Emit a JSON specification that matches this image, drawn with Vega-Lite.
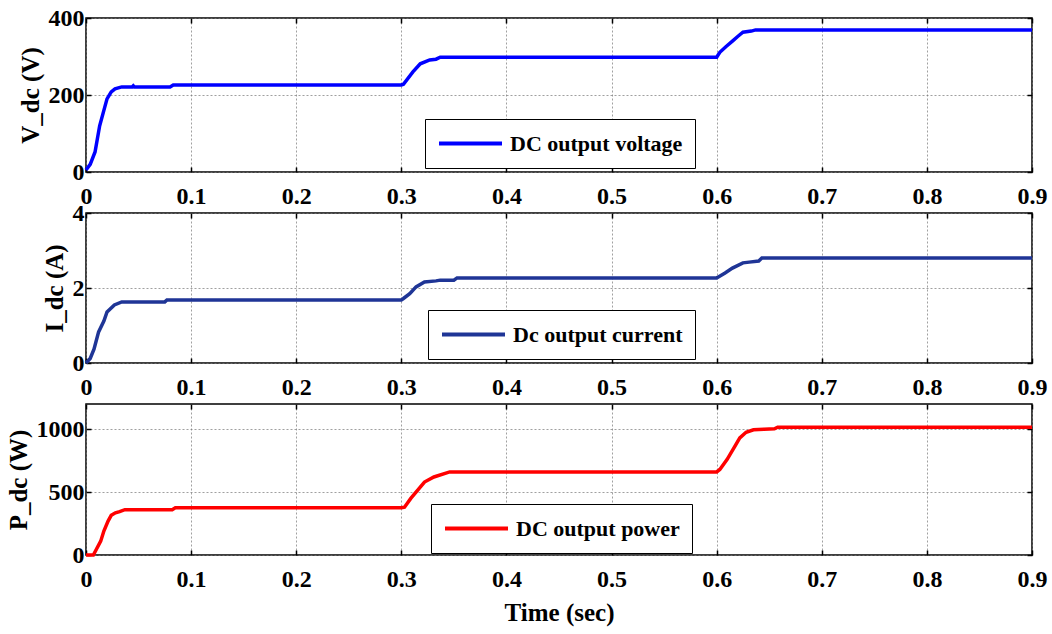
{
  "$schema": "https://vega.github.io/schema/vega-lite/v6.json",
  "background": "white",
  "padding": {"left": 5, "top": 5, "right": 5, "bottom": 5},
  "config": {
    "font": "'Liberation Serif', 'Times New Roman', serif",
    "view": {"stroke": "black", "strokeWidth": 1.5},
    "axis": {
      "labelFont": "'Liberation Serif', 'Times New Roman', serif", "labelFontSize": 24, "labelFontWeight": "bold", "labelColor": "black",
      "titleFont": "'Liberation Serif', 'Times New Roman', serif", "titleFontSize": 25, "titleFontWeight": "bold", "titleColor": "black",
      "domain": false, "tickColor": "black", "tickSize": -5, "tickWidth": 1.5,
      "gridColor": "#777", "gridDash": [2, 2], "gridWidth": 0.7,
      "labelPadding": 7, "labelFlush": false, "labelOverlap": false, "labelBound": false
    },
    "axisX": {"labelPadding": 17},
    "legend": {
      "orient": "none", "fillColor": "white", "strokeColor": "black", "padding": 12,
      "labelFont": "'Liberation Serif', 'Times New Roman', serif", "labelFontSize": 22, "labelFontWeight": "bold", "labelColor": "black",
      "labelLimit": 0, "symbolType": "stroke", "symbolSize": 3969, "symbolStrokeWidth": 4, "labelOffset": 6, "clipHeight": 25
    }
  },
  "datasets": {
    "v": [
      {"t": 0, "val": 5}, {"t": 0.004, "val": 20}, {"t": 0.0086, "val": 52}, {"t": 0.013, "val": 120},
      {"t": 0.017, "val": 160}, {"t": 0.02, "val": 190}, {"t": 0.024, "val": 208}, {"t": 0.0276, "val": 216},
      {"t": 0.034, "val": 221}, {"t": 0.044, "val": 221}, {"t": 0.045, "val": 224}, {"t": 0.046, "val": 221},
      {"t": 0.08, "val": 221}, {"t": 0.083, "val": 226}, {"t": 0.3, "val": 226}, {"t": 0.302, "val": 228},
      {"t": 0.311, "val": 260}, {"t": 0.318, "val": 281}, {"t": 0.327, "val": 291}, {"t": 0.333, "val": 293},
      {"t": 0.337, "val": 298}, {"t": 0.6, "val": 298}, {"t": 0.603, "val": 311}, {"t": 0.609, "val": 326},
      {"t": 0.615, "val": 340}, {"t": 0.62, "val": 352}, {"t": 0.625, "val": 363}, {"t": 0.633, "val": 366},
      {"t": 0.637, "val": 369}, {"t": 0.9, "val": 369}
    ],
    "i": [
      {"t": 0, "val": 0}, {"t": 0.004, "val": 0.12}, {"t": 0.0076, "val": 0.37}, {"t": 0.012, "val": 0.83},
      {"t": 0.017, "val": 1.12}, {"t": 0.02, "val": 1.36}, {"t": 0.027, "val": 1.55}, {"t": 0.034, "val": 1.63},
      {"t": 0.075, "val": 1.63}, {"t": 0.077, "val": 1.68}, {"t": 0.3, "val": 1.68}, {"t": 0.302, "val": 1.72},
      {"t": 0.308, "val": 1.85}, {"t": 0.314, "val": 2.03}, {"t": 0.322, "val": 2.16}, {"t": 0.333, "val": 2.19},
      {"t": 0.337, "val": 2.21}, {"t": 0.35, "val": 2.21}, {"t": 0.353, "val": 2.27}, {"t": 0.6, "val": 2.27},
      {"t": 0.602, "val": 2.3}, {"t": 0.608, "val": 2.4}, {"t": 0.615, "val": 2.53}, {"t": 0.625, "val": 2.67},
      {"t": 0.631, "val": 2.69}, {"t": 0.64, "val": 2.72}, {"t": 0.643, "val": 2.8}, {"t": 0.9, "val": 2.8}
    ],
    "p": [
      {"t": 0, "val": 0}, {"t": 0.007, "val": 0}, {"t": 0.014, "val": 110}, {"t": 0.017, "val": 190},
      {"t": 0.021, "val": 270}, {"t": 0.024, "val": 315}, {"t": 0.028, "val": 335}, {"t": 0.032, "val": 345},
      {"t": 0.037, "val": 360}, {"t": 0.082, "val": 360}, {"t": 0.085, "val": 375}, {"t": 0.3, "val": 375},
      {"t": 0.303, "val": 380}, {"t": 0.309, "val": 450}, {"t": 0.317, "val": 530}, {"t": 0.322, "val": 580},
      {"t": 0.331, "val": 620}, {"t": 0.346, "val": 660}, {"t": 0.6, "val": 660}, {"t": 0.603, "val": 680},
      {"t": 0.61, "val": 760}, {"t": 0.617, "val": 860}, {"t": 0.622, "val": 930}, {"t": 0.628, "val": 975},
      {"t": 0.635, "val": 995}, {"t": 0.645, "val": 1000}, {"t": 0.655, "val": 1003}, {"t": 0.658, "val": 1016},
      {"t": 0.9, "val": 1016}
    ]
  },
  "spacing": 41,
  "bounds": "flush",
  "resolve": {
    "scale": {"x": "independent", "y": "independent", "color": "independent"},
    "legend": {"color": "independent"}
  },
  "vconcat": [
    {
      "width": 946, "height": 154,
      "data": {"name": "v"},
      "layer": [
        {
          "mark": {"type": "line", "strokeWidth": 3.5},
          "encoding": {
            "x": {"field": "t", "type": "quantitative", "scale": {"domain": [0, 0.9], "nice": false},
              "axis": {"values": [0, 0.1, 0.2, 0.3, 0.4, 0.5, 0.6, 0.7, 0.8, 0.9], "format": ".1~f", "title": null}},
            "y": {"field": "val", "type": "quantitative", "scale": {"domain": [0, 400], "nice": false},
              "axis": {"values": [0, 200, 400], "format": "d", "title": "V_dc (V)", "titlePadding": 5}},
            "color": {"datum": "DC output voltage", "type": "nominal", "scale": {"range": ["#0000ff"]},
              "legend": {"title": null, "legendX": 339, "legendY": 101}}
          }
        },
        {
          "mark": {"type": "line", "opacity": 0},
          "encoding": {
            "x": {"field": "t", "type": "quantitative",
              "axis": {"orient": "top", "labels": false, "grid": false, "title": null, "values": [0, 0.1, 0.2, 0.3, 0.4, 0.5, 0.6, 0.7, 0.8, 0.9]}},
            "y": {"field": "val", "type": "quantitative",
              "axis": {"orient": "right", "labels": false, "grid": false, "title": null, "values": [0, 200, 400]}}
          }
        }
      ],
      "resolve": {"axis": {"x": "independent", "y": "independent"}}
    },
    {
      "width": 946, "height": 150,
      "data": {"name": "i"},
      "layer": [
        {
          "mark": {"type": "line", "strokeWidth": 3.5},
          "encoding": {
            "x": {"field": "t", "type": "quantitative", "scale": {"domain": [0, 0.9], "nice": false},
              "axis": {"values": [0, 0.1, 0.2, 0.3, 0.4, 0.5, 0.6, 0.7, 0.8, 0.9], "format": ".1~f", "title": null}},
            "y": {"field": "val", "type": "quantitative", "scale": {"domain": [0, 4], "nice": false},
              "axis": {"values": [0, 2, 4], "format": "d", "title": "I_dc (A)", "titlePadding": 5}},
            "color": {"datum": "Dc output current", "type": "nominal", "scale": {"range": ["#1f3596"]},
              "legend": {"title": null, "legendX": 342, "legendY": 97}}
          }
        },
        {
          "mark": {"type": "line", "opacity": 0},
          "encoding": {
            "x": {"field": "t", "type": "quantitative",
              "axis": {"orient": "top", "labels": false, "grid": false, "title": null, "values": [0, 0.1, 0.2, 0.3, 0.4, 0.5, 0.6, 0.7, 0.8, 0.9]}},
            "y": {"field": "val", "type": "quantitative",
              "axis": {"orient": "right", "labels": false, "grid": false, "title": null, "values": [0, 2, 4]}}
          }
        }
      ],
      "resolve": {"axis": {"x": "independent", "y": "independent"}}
    },
    {
      "width": 946, "height": 151,
      "data": {"name": "p"},
      "layer": [
        {
          "mark": {"type": "line", "strokeWidth": 3.5},
          "encoding": {
            "x": {"field": "t", "type": "quantitative", "scale": {"domain": [0, 0.9], "nice": false},
              "axis": {"values": [0, 0.1, 0.2, 0.3, 0.4, 0.5, 0.6, 0.7, 0.8, 0.9], "format": ".1~f", "title": "Time (sec)", "titlePadding": 9}},
            "y": {"field": "val", "type": "quantitative", "scale": {"domain": [0, 1200], "nice": false},
              "axis": {"values": [0, 500, 1000], "format": "d", "title": "P_dc (W)", "titlePadding": 5}},
            "color": {"datum": "DC output power", "type": "nominal", "scale": {"range": ["#ff0000"]},
              "legend": {"title": null, "legendX": 345, "legendY": 100}}
          }
        },
        {
          "mark": {"type": "line", "opacity": 0},
          "encoding": {
            "x": {"field": "t", "type": "quantitative",
              "axis": {"orient": "top", "labels": false, "grid": false, "title": null, "values": [0, 0.1, 0.2, 0.3, 0.4, 0.5, 0.6, 0.7, 0.8, 0.9]}},
            "y": {"field": "val", "type": "quantitative",
              "axis": {"orient": "right", "labels": false, "grid": false, "title": null, "values": [0, 500, 1000]}}
          }
        }
      ],
      "resolve": {"axis": {"x": "independent", "y": "independent"}}
    }
  ]
}
